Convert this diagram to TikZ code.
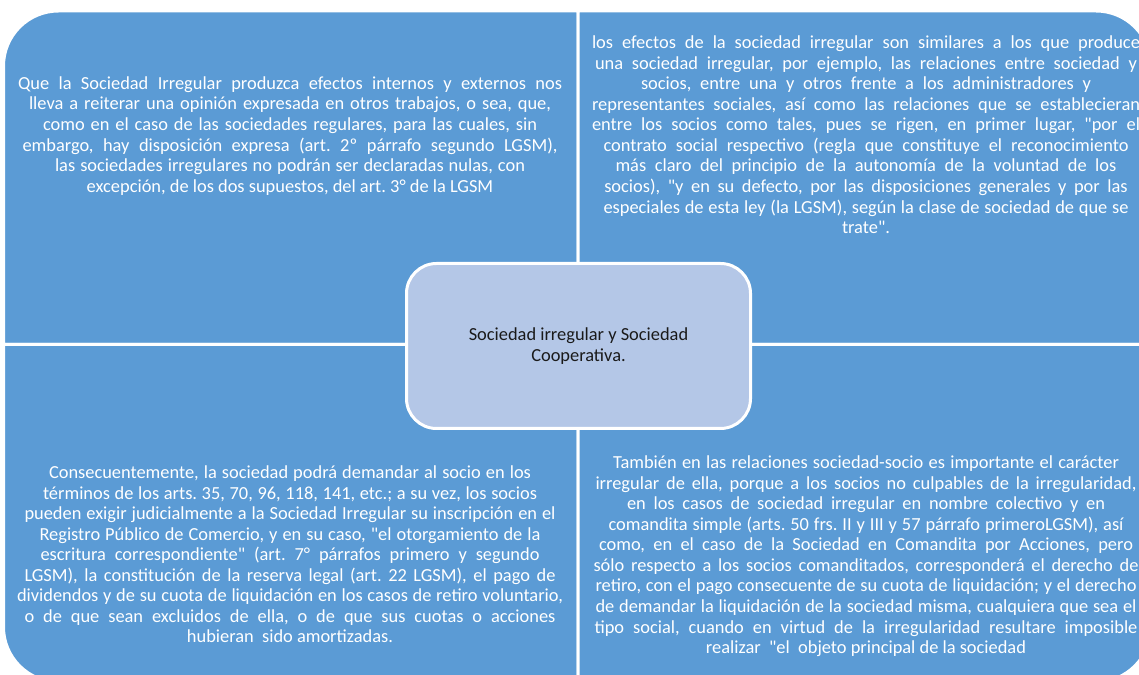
\documentclass[tikz,border=0pt]{standalone}
\usepackage{fontspec}
\setmainfont{Carlito}[Ligatures=TeXOff]
\frenchspacing
\definecolor{quadblue}{HTML}{5B9BD5}
\definecolor{centblue}{HTML}{B4C7E7}
\definecolor{centtext}{HTML}{1A1A1A}
\newcommand{\lw}[2]{\hbox to #1pt{#2}}
\begin{document}
\frenchspacing
\begin{tikzpicture}[x=1pt,y=1pt,
  quadshape/.style={fill=quadblue, draw=white, line width=3pt},
  ln/.style={anchor=base, inner sep=0pt, text=white, font=\fontsize{18.4}{20.6}\selectfont\frenchspacing},
  cbox/.style={rectangle, rounded corners=30pt, fill=centblue, draw=white, line width=3pt,
    minimum width=344pt, minimum height=165pt, inner sep=0pt, align=center,
    text=centtext, font=\fontsize{18.4}{21.3}\selectfont}]
\useasboundingbox (0,0) rectangle (1139,674);
\begin{scope}
\clip (0,0) rectangle (1139,674);
% quadrants
\path[quadshape] (3.5,329.5) -- (3.5,608) arc[start angle=180,end angle=90,radius=55] -- (578,663) -- (578,329.5) -- cycle;
\path[quadshape] (578,329.5) -- (578,663) -- (1096,663) arc[start angle=90,end angle=0,radius=55] -- (1151,329.5) -- cycle;
\path[quadshape] (3.5,329.5) -- (3.5,47) arc[start angle=180,end angle=270,radius=55] -- (578,-8) -- (578,329.5) -- cycle;
\path[quadshape] (578,329.5) -- (578,-8) -- (1096,-8) arc[start angle=270,end angle=360,radius=55] -- (1151,329.5) -- cycle;

% top-left text
\node[ln] (tl1) at (290,584.7) {\lw{544}{Que la Sociedad Irregular produzca efectos internos y externos nos}};
\node[ln] (tl2) at (290,564.04) {\lw{522}{lleva a reiterar una opinión expresada en otros trabajos, o sea, que,}};
\node[ln] (tl3) at (290,543.38) {\lw{494}{como en el caso de las sociedades regulares, para las cuales, sin}};
\node[ln] (tl4) at (290,522.72) {\lw{535}{embargo, hay disposición expresa (art. 2º párrafo segundo LGSM),}};
\node[ln] (tl5) at (290,502.06) {\lw{470}{las sociedades irregulares no podrán ser declaradas nulas, con}};
\node[ln] (tl6) at (290,481.4) {excepción, de los dos supuestos, del art. 3° de la LGSM};

% top-right text
\node[ln] (tr1) at (866,625.4) {\lw{548}{los efectos de la sociedad irregular son similares a los que produce}};
\node[ln] (tr2) at (866,604.84) {\lw{542}{una sociedad irregular, por ejemplo, las relaciones entre sociedad y}};
\node[ln] (tr3) at (866,584.28) {\lw{450}{socios, entre una y otros frente a los administradores y}};
\node[ln] (tr4) at (866,563.72) {\lw{548}{representantes sociales, así como las relaciones que se establecieran}};
\node[ln] (tr5) at (866,543.16) {\lw{548}{entre los socios como tales, pues se rigen, en primer lugar, "por el}};
\node[ln] (tr6) at (866,522.6) {\lw{525}{contrato social respectivo (regla que constituye el reconocimiento}};
\node[ln] (tr7) at (866,502.04) {\lw{501}{más claro del principio de la autonomía de la voluntad de los}};
\node[ln] (tr8) at (866,481.48) {\lw{523.5}{socios), "y en su defecto, por las disposiciones generales y por las}};
\node[ln] (tr9) at (866,460.92) {\lw{525}{especiales de esta ley (la LGSM), según la clase de sociedad de que se}};
\node[ln] (tr10) at (866,440.36) {trate".};

% bottom-left text
\node[ln] (bl1) at (290,195.4) {\lw{482}{Consecuentemente, la sociedad podrá demandar al socio en los}};
\node[ln] (bl2) at (290,174.85) {\lw{494}{términos de los arts. 35, 70, 96, 118, 141, etc.; a su vez, los socios}};
\node[ln] (bl3) at (290,154.3) {\lw{531}{pueden exigir judicialmente a la Sociedad Irregular su inscripción en el}};
\node[ln] (bl4) at (290,133.75) {\lw{501}{Registro Público de Comercio, y en su caso, "el otorgamiento de la}};
\node[ln] (bl5) at (290,113.2) {\lw{499}{escritura correspondiente" (art. 7° párrafos primero y segundo}};
\node[ln] (bl6) at (290,92.65) {\lw{531}{LGSM), la constitución de la reserva legal (art. 22 LGSM), el pago de}};
\node[ln] (bl7) at (290,72.1) {\lw{546}{dividendos y de su cuota de liquidación en los casos de retiro voluntario,}};
\node[ln] (bl8) at (290,51.55) {\lw{531}{o de que sean excluidos de ella, o de que sus cuotas o acciones}};
\node[ln] (bl9) at (290,31.0) {hubieran\ \ sido amortizadas.};

% bottom-right text
\node[ln] (br1) at (866,205.4) {\lw{506}{También en las relaciones sociedad-socio es importante el carácter}};
\node[ln] (br2) at (866,184.84) {\lw{541}{irregular de ella, porque a los socios no culpables de la irregularidad,}};
\node[ln] (br3) at (866,164.28) {\lw{478}{en los casos de sociedad irregular en nombre colectivo y en}};
\node[ln] (br4) at (866,143.72) {\lw{515}{comandita simple (arts. 50 frs. II y III y 57 párrafo primeroLGSM), así}};
\node[ln] (br5) at (866,123.16) {\lw{534}{como, en el caso de la Sociedad en Comandita por Acciones, pero}};
\node[ln] (br6) at (866,102.6) {\lw{545}{sólo respecto a los socios comanditados, corresponderá el derecho de}};
\node[ln] (br7) at (866,82.04) {\lw{541}{retiro, con el pago consecuente de su cuota de liquidación; y el derecho}};
\node[ln] (br8) at (866,61.48) {\lw{541}{de demandar la liquidación de la sociedad misma, cualquiera que sea el}};
\node[ln] (br9) at (866,40.92) {\lw{543}{tipo social, cuando en virtud de la irregularidad resultare imposible}};
\node[ln] (br10) at (866,20.36) {realizar\ \ "el\ \ objeto principal de la sociedad};
\end{scope}

% central box
\node[cbox] (center) at (578.5,328) {Sociedad irregular y Sociedad\\Cooperativa.};
\end{tikzpicture}
\end{document}
